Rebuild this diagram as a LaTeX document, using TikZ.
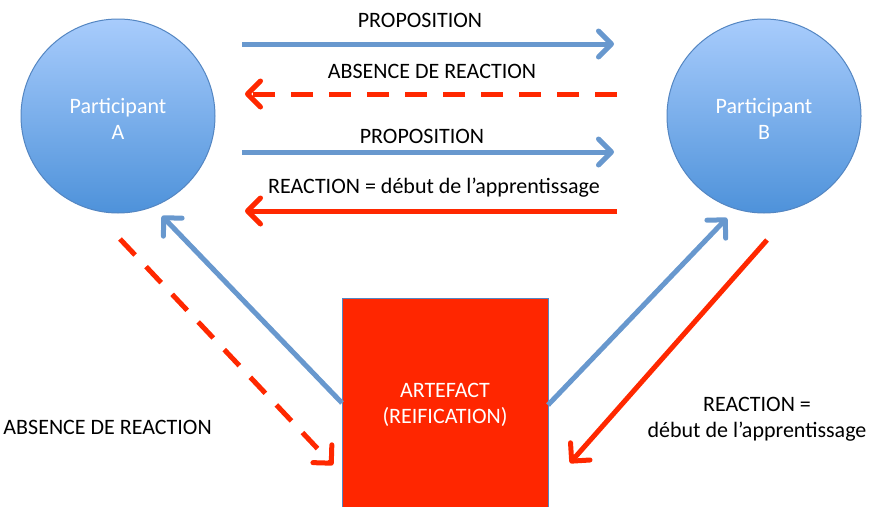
\documentclass[tikz,border=0pt]{standalone}
\usepackage{fontspec}
\setmainfont{Carlito}
\usetikzlibrary{arrows.meta}
\definecolor{blueline}{RGB}{104,152,206}
\definecolor{redline}{RGB}{255,40,0}
\definecolor{boxred}{RGB}{255,38,0}
\definecolor{circtop}{RGB}{168,204,252}
\definecolor{circbot}{RGB}{78,146,218}
\definecolor{circedge}{RGB}{84,134,194}
\begin{document}
\begin{tikzpicture}[x=1pt,y=-1pt,
  lbl/.style={font=\fontsize{22}{26}\selectfont, text=black, inner sep=0pt, align=center},
  whitelbl/.style={font=\fontsize{22}{26}\selectfont, text=white, inner sep=0pt, align=center},
  tipstyle/.style={-{Straight Barb[length=13pt,width=26pt,line width=5pt,round]}},
  bluearr/.style={draw=blueline, line width=5pt, tipstyle},
  redarr/.style={draw=redline, line width=5pt, tipstyle},
  reddash/.style={redarr, dash pattern=on 22pt off 16pt},
  participant/.style={circle, minimum size=194pt, inner sep=0pt, draw=circedge, line width=1pt, top color=circtop, bottom color=circbot}
]
\useasboundingbox (0,0) rectangle (872,506);

% participants
\node[participant] (A) at (118,116) {};
\node[whitelbl] at (118,119) {Participant\\A};
\node[participant] (B) at (764,116) {};
\node[whitelbl] at (764,119) {Participant\\B};

% artefact
\node[draw=circedge, line width=1pt, fill=boxred, minimum width=206pt, minimum height=240pt, inner sep=0pt] (art) at (445,418) {};
\node[whitelbl] (artlbl) at (445,405) {ARTEFACT\\(REIFICATION)};

% horizontal arrows coordinates
\coordinate (h1a) at (242,44);  \coordinate (h1b) at (614,44);
\coordinate (h2a) at (617,94);  \coordinate (h2b) at (245,94);
\coordinate (h3a) at (242,152); \coordinate (h3b) at (614,152);
\coordinate (h4a) at (617,211); \coordinate (h4b) at (245,211);

\draw[bluearr] (h1a) -- (h1b);
\draw[reddash] (h2a) -- (h2b);
\draw[bluearr] (h3a) -- (h3b);
\draw[redarr] (h4a) -- (h4b);

\node[lbl] (l1) at (420,20) {PROPOSITION};
\node[lbl] (l2) at (432,71) {ABSENCE DE REACTION};
\node[lbl] (l3) at (422,136) {PROPOSITION};
\node[lbl] (l4) at (434,188) {REACTION = début de l’apprentissage};

% diagonal arrows
\coordinate (dAs) at (120,239); \coordinate (dAt) at (333,465);
\draw[reddash] (dAs) -- (dAt);
\coordinate (bAs) at (342,403); \coordinate (bAt) at (162,216);
\draw[bluearr] (bAs) -- (bAt);
\coordinate (bBs) at (548,405); \coordinate (bBt) at (727,218);
\draw[bluearr] (bBs) -- (bBt);
\coordinate (rBs) at (767,240); \coordinate (rBt) at (570,463);
\draw[redarr] (rBs) -- (rBt);

\node[lbl, anchor=east] (l5) at (212,427) {ABSENCE DE REACTION};
\node[lbl] (l6) at (757,419) {REACTION =\\début de l’apprentissage};
\end{tikzpicture}
\end{document}
